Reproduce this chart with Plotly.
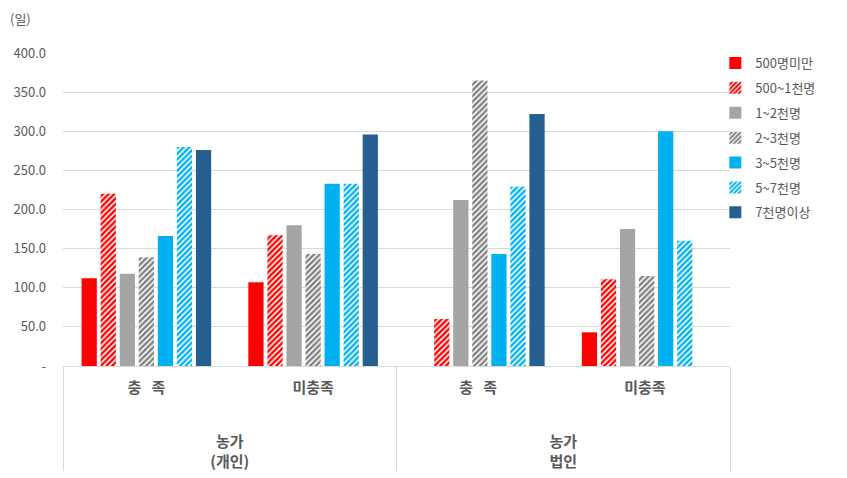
import plotly.graph_objects as go

outer_groups = ["(개인)", "법인"]
outer = [" <br> <br><b>농가</b><br><b>" + outer_groups[0] + "</b>"] * 2 + \
        [" <br> <br><b>농가</b><br><b>" + outer_groups[1] + "</b>"] * 2
inner = ["<b>충   족</b>", "<b>미충족</b>", "<b>충   족</b> ", "<b>미충족</b> "]

series_names = ["500명미만", "500~1천명", "1~2천명", "2~3천명", "3~5천명", "5~7천명", "7천명이상"]
v_500 = [112, 107, None, 43]
v_500_1k = [220, 167, 60, 111]
v_1_2k = [118, 180, 212, 175]
v_2_3k = [139, 143, 365, 115]
v_3_5k = [166, 233, 143, 300]
v_5_7k = [280, 233, 229, 160]
v_7k = [276, 296, 322, None]
values = [v_500, v_500_1k, v_1_2k, v_2_3k, v_3_5k, v_5_7k, v_7k]

colors = ["#FF0000", "#FF0000", "#A5A5A5", "#7F7F7F", "#00B0F0", "#00B0F0", "#255E91"]
hatched = [False, True, False, True, False, True, False]

yvals = [0, 50, 100, 150, 200, 250, 300, 350, 400]
ytext = ["-", "50.0", "100.0", "150.0", "200.0", "250.0", "300.0", "350.0", "400.0"]

FONT = "Noto Sans CJK KR"
TXT = "#595959"

fig = go.Figure()
for i, (name, vals, c, h) in enumerate(zip(series_names, values, colors, hatched)):
    if h:
        marker = dict(color=c, pattern=dict(shape="/", fgcolor=c, bgcolor="white",
                                            size=4, solidity=0.6, fillmode="replace"))
    else:
        marker = dict(color=c)
    fig.add_trace(go.Bar(name=name, x=[outer, inner], y=vals, marker=marker,
                         marker_line_width=0, legendgroup=f"g{i}"))

fig.update_layout(
    width=847, height=478,
    margin=dict(l=63, r=117, t=53, b=112),
    paper_bgcolor="white", plot_bgcolor="white",
    barmode="group", bargap=0.2, bargroupgap=0.2,
    font=dict(family=FONT, color=TXT, size=13),
    legend=dict(x=0.978, xanchor="left", y=1.016, yanchor="top", font=dict(size=13, color=TXT),
                tracegroupgap=5, itemwidth=30, bgcolor="rgba(0,0,0,0)"),
    xaxis=dict(type="multicategory", showline=True, linecolor="#D9D9D9", linewidth=1,
               showdividers=True, dividercolor="#D9D9D9", dividerwidth=1,
               tickfont=dict(size=15, color=TXT, family=FONT), ticks="",
               ticklabelstandoff=8, automargin=False),
    yaxis=dict(range=[0, 400], tickvals=yvals, ticktext=ytext, showgrid=True,
               gridcolor="#D9D9D9", gridwidth=1, zeroline=False, showline=False,
               tickfont=dict(size=13, color=TXT), ticklen=0, ticklabelstandoff=16),
    annotations=[dict(text="(일)", x=-55/667, y=1 + (53-18)/313, xref="paper", yref="paper",
                      showarrow=False, xanchor="left", yanchor="middle",
                      font=dict(size=13, color=TXT))],
)
fig.write_html("out.html")
